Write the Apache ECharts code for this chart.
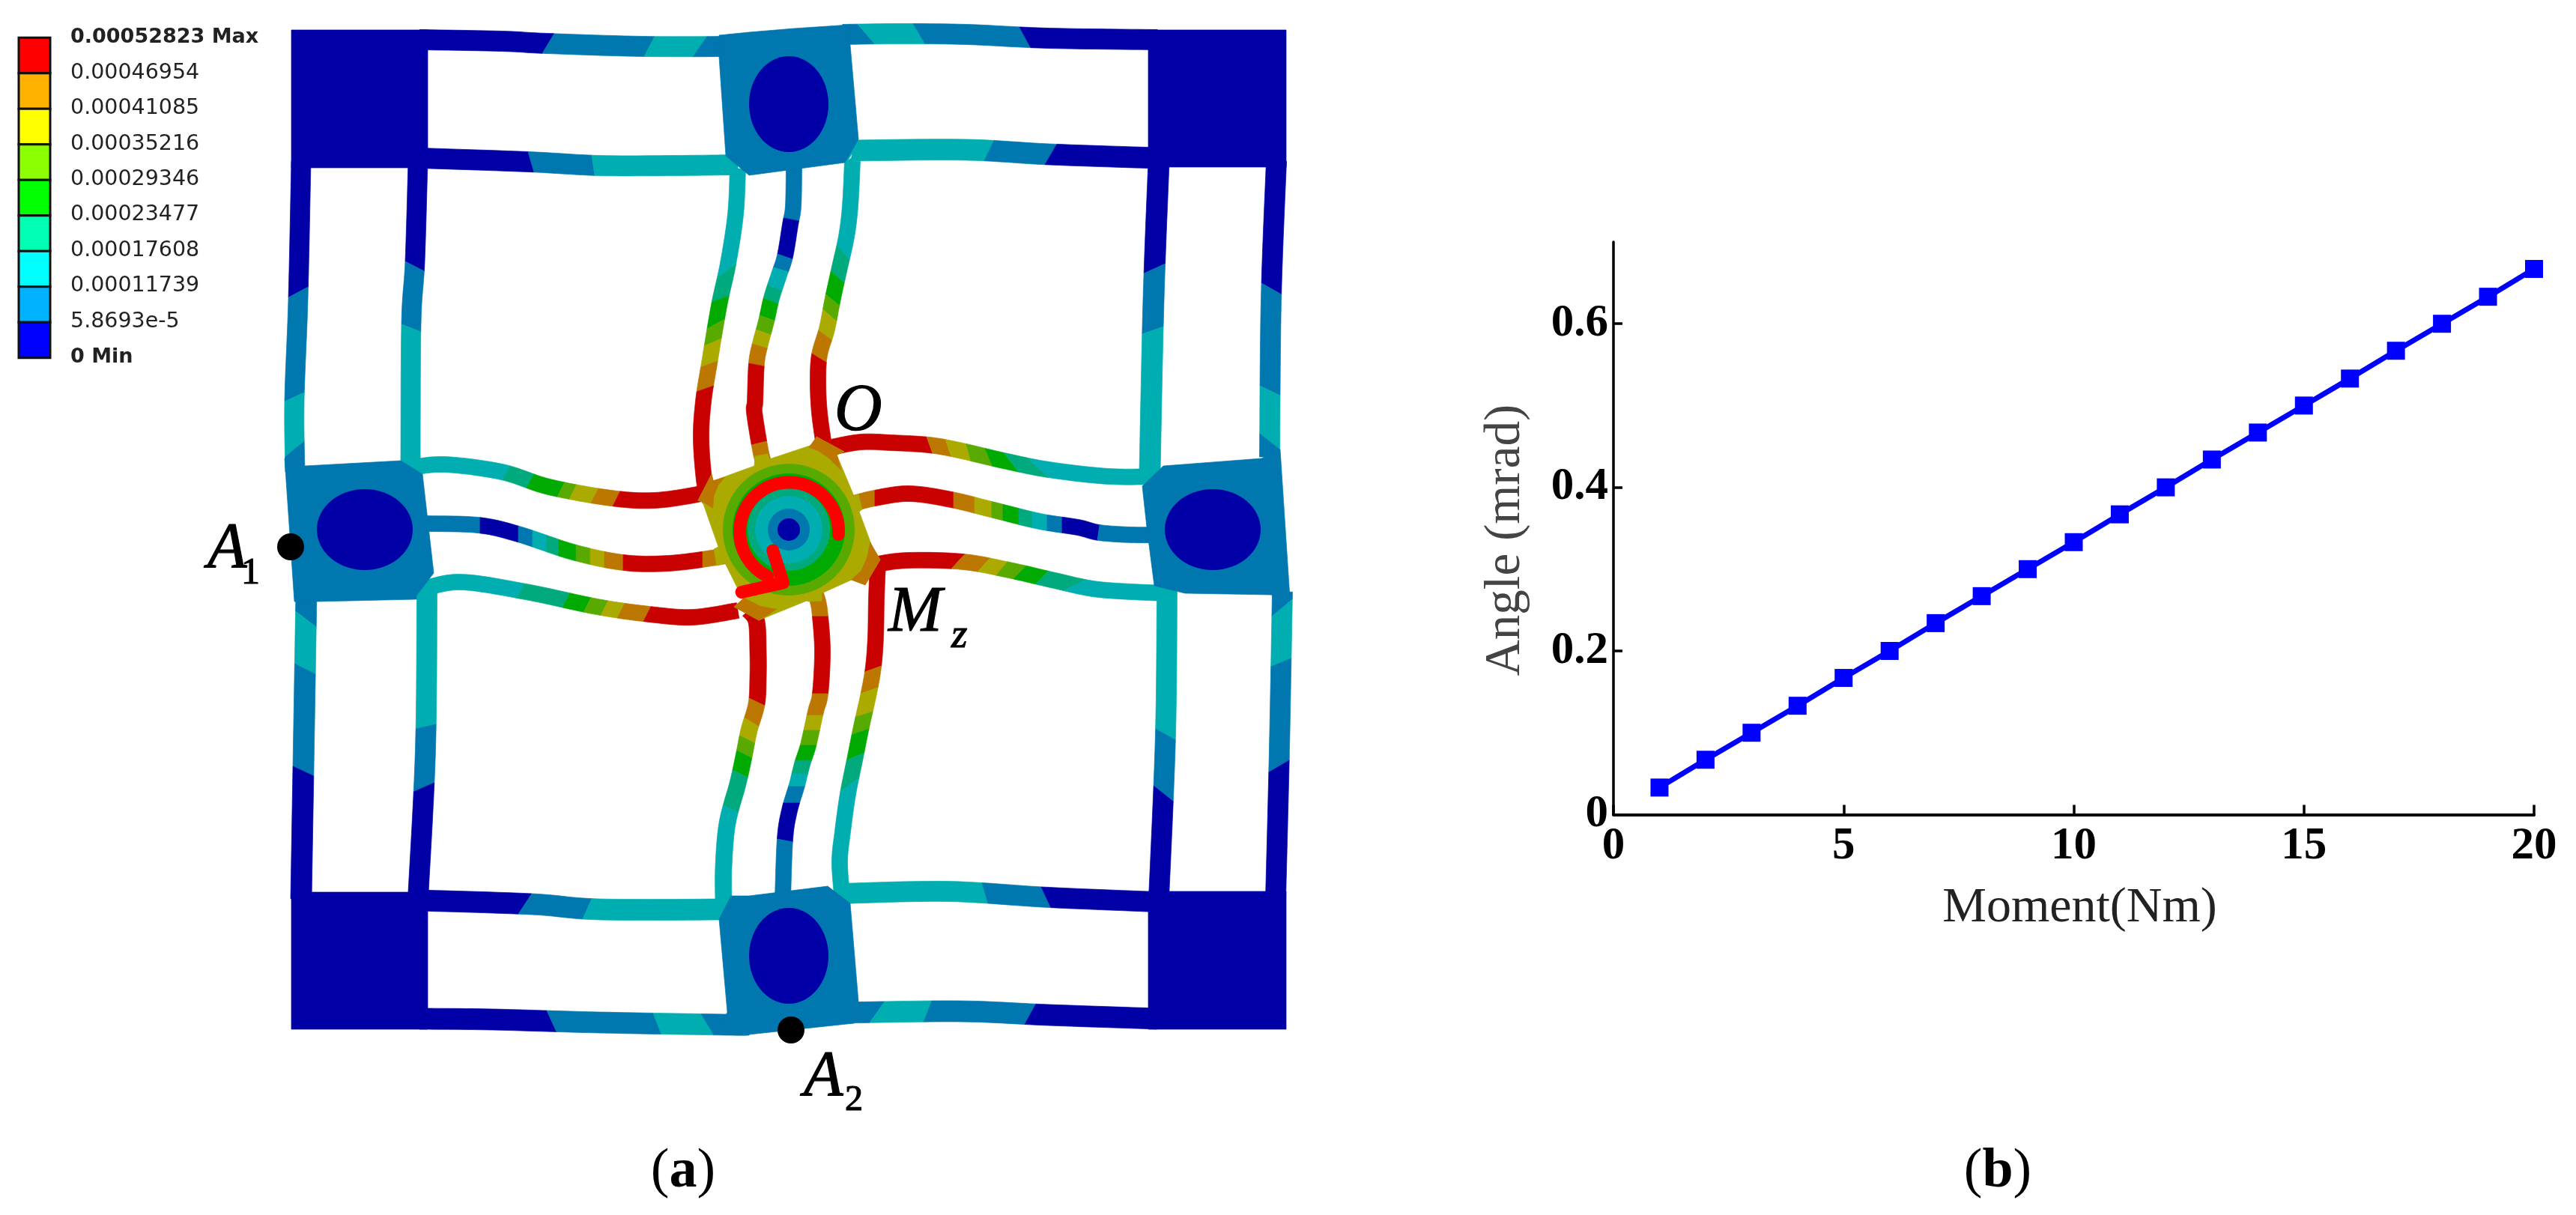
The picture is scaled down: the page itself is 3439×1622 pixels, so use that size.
<!DOCTYPE html>
<html><head><meta charset="utf-8">
<style>html,body{margin:0;padding:0;background:#fff;overflow:hidden}#c{width:3439px;height:1622px}</style>
<script src="https://cdn.jsdelivr.net/npm/echarts@6/dist/echarts.min.js"></script>
</head><body><div id="c"></div>
<script>
// ---- panel (b) data
const moment = [1,2,3,4,5,6,7,8,9,10,11,12,13,14,15,16,17,18,19,20];
const angle = [0.033,0.067,0.1,0.133,0.167,0.2,0.234,0.267,0.3,0.333,0.367,0.4,0.434,0.467,0.5,0.533,0.567,0.6,0.633,0.667];
const angleTicks = [0,0.2,0.4,0.6];
// ---- panel (a) legend
const legendLabels = ['0.00052823 Max','0.00046954','0.00041085','0.00035216','0.00029346','0.00023477','0.00017608','0.00011739','5.8693e-5','0 Min'];
const legendColors = ['#ff0000','#ffb200','#ffff00','#8cff00','#00ff00','#00ffb2','#00ffff','#00b2ff','#0000ff'];
// ---- panel (a) contour colours
const shade = {N:'#0000a6',B:'#0077ae',T:'#00adb0',S:'#00aa7c',g:'#00aa00',L:'#58aa00',O:'#aaaa00',Y:'#bb7700',R:'#c80000'};
// ---- panel (a) mesh, in image-plane coordinates
const solidBlocks = [
 ['N',[[389,40],[571,40],[571,224],[389,224]]],
 ['N',[[1533,40],[1717,40],[1717,223],[1533,223]]],
 ['N',[[389,1191],[571,1191],[571,1374],[389,1374]]],
 ['N',[[1533,1190],[1717,1190],[1717,1374],[1533,1374]]],
 ['B',[[960,47],[1000,43],[1060,38],[1135,33],[1135,60],[1146,186],[1128,217],[1000,234],[969,208],[960,76]]],
 ['B',[[976,1196],[1000,1196],[1105,1183],[1135,1206],[1146,1337],[1140,1366],[1000,1381],[960,1378],[971,1351],[960,1227]]],
 ['B',[[380,612],[407,622],[535,615],[564,633],[579,765],[556,795],[556,800],[424,803],[393,803]]],
 ['B',[[1525,649],[1553,622],[1684,612],[1709,600],[1722,798],[1696,794],[1582,792],[1541,782],[1531,704]]]
];
const holes = [[487,707,64,54],[1619,707,64,54],[1053,139,53,64],[1053,1276,53,64]];
const beams = [
 {axis:'x',w:27,path:[[560,53],[670,55],[730,58],[860,62],[975,62]],cuts:[['N',740,724],['B',874,860],['T',944,925],['B']]},
 {axis:'x',w:27,path:[[1125,46],[1200,45],[1290,46],[1400,51],[1545,53]],cuts:[['B',1145,1168],['T',1219,1235],['B',1361,1376],['N']]},
 {axis:'x',w:27,path:[[560,211],[705,216],[800,221],[900,221],[985,220]],cuts:[['N',705,713],['B',790,794],['T']]},
 {axis:'x',w:28,path:[[1125,203],[1145,201],[1290,200],[1400,206],[1545,211]],cuts:[['T',1327,1314],['B',1411,1395],['N']]},
 {axis:'x',w:28,path:[[560,1202],[710,1207],[800,1214],[960,1214],[985,1212]],cuts:[['N',710,692],['B',790,778],['T']]},
 {axis:'x',w:27,path:[[1120,1193],[1265,1190],[1400,1198],[1545,1204]],cuts:[['T',1311,1319],['B',1390,1403],['N']]},
 {axis:'x',w:28,path:[[560,1360],[657,1361],[800,1365],[969,1368],[1000,1368]],cuts:[['N',730,743],['B',872,883],['T',936,953],['B']]},
 {axis:'x',w:28,path:[[1125,1352],[1280,1350],[1400,1355],[1545,1360]],cuts:[['B',1181,1161],['T',1244,1233],['B',1383,1368],['N']]},
 {axis:'y',w:26,path:[[402,215],[398,400],[393,536],[394,630]],cuts:[['N',397,383],['B',536,524],['T',610,589],['B']]},
 {axis:'y',w:26,path:[[558,215],[554,349],[549,433],[548,625]],cuts:[['N',349,362],['B',433,443],['T']]},
 {axis:'y',w:28,path:[[409,790],[405,1025],[402,1200]],cuts:[['B',816,837],['T',886,900],['B',1023,1036],['N']]},
 {axis:'y',w:27,path:[[570,790],[568,1000],[558,1200]],cuts:[['T',973,967],['B',1057,1045],['N']]},
 {axis:'y',w:28,path:[[1547,215],[1540,400],[1535,630]],cuts:[['N',365,352],['B',446,436],['T']]},
 {axis:'y',w:27,path:[[1704,215],[1697,400],[1695,610]],cuts:[['N',378,393],['B',515,528],['T',579,600],['B']]},
 {axis:'y',w:27,path:[[1558,780],[1556,980],[1547,1200]],cuts:[['T',973,988],['B',1049,1070],['N']]},
 {axis:'y',w:27,path:[[1712,790],[1708,1000],[1703,1200]],cuts:[['B',823,800],['T',890,879],['B',1031,1015],['N']]},
 {axis:'y',w:21,path:[[985,225],[982,286],[972,352],[960,408],[947,485],[939,536],[936,587],[941,648],[948,668]],cuts:[['T',372,352],['S',403,395],['g',439,426],['L',462,452],['O',490,482],['Y',523,515],['R']]},
 {axis:'y',w:21,path:[[1060,224],[1059,275],[1055,300],[1048,342],[1040,367],[1030,398],[1023,429],[1015,459],[1010,485],[1008,536],[1007,550],[1015,600],[1020,620]],cuts:[['B',291,295],['N',339,346],['B',357,363],['T',380,388],['S',398,406],['g',421,428],['L',440,447],['O',459,465],['Y',485,489],['R',594,589],['Y']]},
 {axis:'y',w:21,path:[[1138,215],[1135,275],[1130,316],[1121,357],[1112,398],[1104,439],[1094,474],[1092,510],[1094,551],[1100,595]],cuts:[['T',327,347],['S',362,378],['g',393,408],['L',413,429],['O',441,454],['Y',472,484],['R']]},
 {axis:'x',w:21,path:[[1100,600],[1110,597],[1150,590],[1189,591],[1240,594],[1280,601],[1340,615],[1400,627],[1480,636],[1545,636]],cuts:[['R',1237,1245],['Y',1262,1270],['O',1290,1296],['L',1315,1325],['g',1340,1360],['S',1372,1400],['T']]},
 {axis:'x',w:21,path:[[1140,672],[1168,665],[1214,659],[1270,667],[1327,681],[1388,696],[1439,704],[1467,711],[1510,714],[1545,714]],cuts:[['Y',1168],['R',1273],['Y',1301],['O',1324],['L',1339],['g',1360],['S',1378],['T',1398],['B',1418],['N',1468,1465],['B']]},
 {axis:'x',w:21,path:[[1160,760],[1173,753],[1214,748],[1286,750],[1347,761],[1408,775],[1459,786],[1510,790],[1560,792]],cuts:[['R',1288,1270],['Y',1322,1305],['O',1345,1330],['L',1370,1353],['g',1400,1382],['S',1450,1420],['T']]},
 {axis:'x',w:21,path:[[545,625],[593,620],[670,630],[733,650],[816,665],[874,668],[931,660],[945,655]],cuts:[['T',681,671],['S',713,703],['g',754,744],['L',770,760],['O',799,789],['Y',828,818],['R']]},
 {axis:'x',w:21,path:[[560,699],[638,701],[692,713],[765,737],[832,751],[893,752],[957,744],[975,740]],cuts:[['B',641],['N',692],['B',711],['T',730],['S',746],['g',769],['L',788],['O',807],['Y',832],['R',938],['Y']]},
 {axis:'x',w:21,path:[[555,790],[612,777],[702,790],[797,810],[867,820],[925,824],[985,815]],cuts:[['T',700,690],['S',761,751],['g',789,779],['L',812,802],['O',834,824],['Y',869,859],['R']]},
 {axis:'y',w:22,path:[[1000,815],[1010,830],[1012,870],[1012,905],[1010,940],[1000,975],[993,1010],[985,1046],[971,1099],[966,1157],[966,1205]],cuts:[['R',932,942],['Y',958,970],['O',982,992],['L',1002,1012],['g',1028,1038],['S',1075,1085],['T']]},
 {axis:'y',w:21,path:[[1086,785],[1092,803],[1095,823],[1098,870],[1095,926],[1089,950],[1079,995],[1071,1020],[1064,1048],[1054,1082],[1048,1120],[1045,1200]],cuts:[['Y',823],['R',926],['Y',955],['O',975],['L',995],['g',1015],['S',1033],['T',1050],['B',1072],['N',1120,1124],['B']]},
 {axis:'y',w:21,path:[[1172,750],[1170,800],[1169,850],[1166,890],[1160,925],[1150,970],[1142,1010],[1132,1060],[1125,1110],[1121,1150],[1124,1195]],cuts:[['R',897,889],['Y',926,918],['O',957,950],['L',981,973],['g',1015,1005],['S',1057,1039],['T']]}
];
const hubOutline = [[932,668],[950,633],[952,642],[1007,622],[1008,609],[1025,606],[1027,613],[1087,593],[1090,583],[1127,603],[1117,607],[1140,662],[1146,660],[1151,680],[1147,683],[1167,737],[1175,747],[1155,781],[1137,774],[1097,792],[1097,802],[1079,803],[1077,802],[1013,828],[980,810],[992,800],[968,752],[957,755],[953,733],[959,730],[938,670]];
const hubCorners = [
 [[931.7,668.3],[950,633.3],[952.3,641.7],[967.3,637.3],[958.3,648.3],[952.7,663.3],[951.7,678.3],[938.3,670]],
 [[1080,597.3],[1090,583.3],[1126.7,603.3],[1117.3,607.3],[1122.7,627.3],[1106.7,611.7],[1093.3,602.3]],
 [[1161.7,724],[1175,746.7],[1155,780.7],[1136.7,774],[1150,761.7],[1158,743]],
 [[980,810],[1013.3,828.3],[1036.7,813.3],[1015,809.3],[993.3,798.3]]
];
const hubRings = [['L',88],['g',75],['S',55],['T',45],['B',28],['N',15]];
const hubCentre = [1053,707];
const arrowStrokes = [[[1031.7,735],[1045.5,778],[990,790.5]]];
const arrowArc = {c:[1053.5,710],r:66,from:3,to:116};
const probeDots = [[388,730],[1056,1375]];
const annotations = [
 {t:'A',x:277,b:760,s:86,f:'italic'},
 {t:'1',x:322,b:781,s:50,f:''},
 {t:'A',x:1073,b:1465,s:86,f:'italic'},
 {t:'2',x:1128,b:1484,s:48,f:''},
 {t:'O',x:1114,b:576,s:88,f:'italic'},
 {t:'M',x:1186,b:845,s:86,f:'italic'},
 {t:'z',x:1270,b:866,s:55,f:'italic'}
];

// ---- geometry helpers
function dense(path){
  const out=[];
  for(let i=0;i<path.length-1;i++){
    const p0=path[Math.max(i-1,0)],p1=path[i],p2=path[i+1],p3=path[Math.min(i+2,path.length-1)];
    for(let s=0;s<10;s++){
      const t=s/10,t2=t*t,t3=t2*t;
      out.push([0,1].map(k=>0.5*(2*p1[k]+(p2[k]-p0[k])*t+(2*p0[k]-5*p1[k]+4*p2[k]-p3[k])*t2+(3*p1[k]-p0[k]-3*p2[k]+p3[k])*t3)));
    }
  }
  out.push(path[path.length-1]);
  return out;
}
function edges(b){
  const d=dense(b.path),A=[],B=[],sign=b.axis==='x'?1:-1;
  d.forEach((p,i)=>{
    const a=d[Math.max(i-1,0)],c=d[Math.min(i+1,d.length-1)];
    let dx=c[0]-a[0],dy=c[1]-a[1];const l=Math.hypot(dx,dy)||1;dx/=l;dy/=l;
    const nx=dy*sign*b.w/2,ny=-dx*sign*b.w/2;
    A.push([p[0]+nx,p[1]+ny]);B.push([p[0]-nx,p[1]-ny]);
  });
  return [A,B];
}
function clip(e,k,lo,hi){
  const out=[];
  const lerp=(p,q,v)=>{const t=(v-p[k])/(q[k]-p[k]);return [p[0]+(q[0]-p[0])*t,p[1]+(q[1]-p[1])*t];};
  for(let i=0;i<e.length;i++){
    const p=e[i],q=e[i+1],o=e[i-1];
    if(o&&o[k]<lo&&p[k]>=lo)out.push(lerp(o,p,lo));
    if(p[k]>=lo&&p[k]<=hi)out.push(p);
    if(q&&p[k]<=hi&&q[k]>hi)out.push(lerp(p,q,hi));
  }
  return out;
}
const shapes=[];
beams.forEach(b=>{
  const [A,B]=edges(b),k=b.axis==='x'?0:1;
  let a0=-Infinity,b0=-Infinity;
  b.cuts.forEach(c=>{
    const a1=c.length>1?c[1]:Infinity,b1=c.length>2?c[2]:a1;
    shapes.push({color:shade[c[0]],pts:clip(A,k,a0,a1).concat(clip(B,k,b0,b1).reverse())});
    a0=a1;b0=b1;
  });
});
solidBlocks.forEach(s=>shapes.push({color:shade[s[0]],pts:s[1]}));
shapes.push({color:shade.O,pts:hubOutline});
hubCorners.forEach(p=>shapes.push({color:shade.Y,pts:p}));

const chart=echarts.init(document.getElementById('c'),null,{renderer:'canvas',width:3439,height:1622});
const serif='"Liberation Serif"';
const none={show:false};
chart.setOption({
 animation:false,backgroundColor:'#fff',
 grid:[{left:2154,width:1229,top:323,height:764.4},{left:0,top:0,width:3439,height:1622}],
 xAxis:[
  {type:'value',gridIndex:0,min:0,max:20,interval:5,name:'Moment(Nm)',nameLocation:'middle',nameGap:92,
   nameTextStyle:{fontFamily:serif,fontSize:66,color:'#222',padding:[0,0,0,16]},
   axisLine:{show:true,onZero:false,lineStyle:{color:'#000',width:4}},
   axisTick:{show:true,inside:true,length:13,lineStyle:{color:'#000',width:3.5}},
   axisLabel:{fontFamily:serif,fontSize:61,fontWeight:'bold',color:'#000',margin:12},splitLine:none},
  {type:'value',gridIndex:1,min:0,max:3439,show:false,splitLine:none}],
 yAxis:[
  {type:'value',gridIndex:0,min:0,max:0.7,interval:0.2,name:'Angle (mrad)',nameLocation:'middle',nameGap:110,nameRotate:90,
   nameTextStyle:{fontFamily:serif,fontSize:67,color:'#444',padding:[0,32,0,0]},
   axisLine:{show:true,onZero:false,lineStyle:{color:'#000',width:3.5}},
   axisTick:{show:true,inside:true,length:12,customValues:angleTicks,lineStyle:{color:'#000',width:3.5}},
   axisLabel:{fontFamily:serif,fontSize:61,fontWeight:'bold',color:'#000',margin:7,customValues:angleTicks,
     formatter:v=>v===0?'0':v.toFixed(1)},splitLine:none},
  {type:'value',gridIndex:1,min:0,max:1622,inverse:true,show:false,splitLine:none}],
 series:[
  {type:'line',name:'Angle',xAxisIndex:0,yAxisIndex:0,data:moment.map((m,i)=>[m,angle[i]]),
   symbol:'rect',symbolSize:24,lineStyle:{color:'#0000ff',width:7},itemStyle:{color:'#0000ff'},z:5,silent:true},
  {type:'custom',name:'mesh',xAxisIndex:1,yAxisIndex:1,coordinateSystem:'cartesian2d',clip:false,silent:true,z:2,
   data:shapes.map((_,i)=>[i,0]),encode:{x:0,y:1},
   renderItem:(p,api)=>{const s=shapes[p.dataIndex];
     return {type:'polygon',shape:{points:s.pts.map(q=>api.coord(q))},style:{fill:s.color,stroke:s.color,lineWidth:0.7}};}},
  {type:'custom',name:'holes',xAxisIndex:1,yAxisIndex:1,clip:false,silent:true,z:3,
   data:holes,encode:{x:0,y:1},
   renderItem:(p,api)=>{const c=api.coord([api.value(0),api.value(1)]);
     return {type:'ellipse',shape:{cx:c[0],cy:c[1],rx:api.value(2),ry:api.value(3)},style:{fill:shade.N}};}},
  {type:'custom',name:'rings',xAxisIndex:1,yAxisIndex:1,clip:false,silent:true,z:3,
   data:hubRings.map(r=>[hubCentre[0],hubCentre[1],r[1]]),encode:{x:0,y:1},
   renderItem:(p,api)=>{const c=api.coord([api.value(0),api.value(1)]);
     return {type:'circle',shape:{cx:c[0],cy:c[1],r:api.value(2)},style:{fill:shade[hubRings[p.dataIndex][0]]}};}},
  {type:'custom',name:'arrow',xAxisIndex:1,yAxisIndex:1,clip:false,silent:true,z:4,
   data:[arrowArc.c],encode:{x:0,y:1},
   renderItem:(p,api)=>{const c=api.coord(arrowArc.c),st={fill:null,stroke:'#ff0000',lineWidth:17,lineCap:'round',lineJoin:'round'};
     return {type:'group',children:[
       {type:'arc',shape:{cx:c[0],cy:c[1],r:arrowArc.r,startAngle:arrowArc.from*Math.PI/180,endAngle:arrowArc.to*Math.PI/180,clockwise:false},style:st},
       ...arrowStrokes.map(s=>({type:'polyline',shape:{points:s.map(q=>api.coord(q))},style:st}))]};}},
  {type:'scatter',name:'probes',xAxisIndex:1,yAxisIndex:1,data:probeDots,symbol:'circle',symbolSize:36,itemStyle:{color:'#000',opacity:1},z:6,silent:true},
  {type:'custom',name:'notes',xAxisIndex:1,yAxisIndex:1,clip:false,silent:true,z:7,
   data:annotations.map(a=>[a.x,a.b]),encode:{x:0,y:1},
   renderItem:(p,api)=>{const a=annotations[p.dataIndex],c=api.coord([a.x,a.b]);
     return {type:'text',x:c[0],y:c[1]+a.s*0.2,style:{text:a.t,font:a.f+' '+a.s+'px "Liberation Serif"',fill:'#000',stroke:'#000',lineWidth:1.2,align:'left',verticalAlign:'bottom'}};}},
  {type:'custom',name:'colourbar',xAxisIndex:1,yAxisIndex:1,clip:false,silent:true,z:7,
   data:legendColors.map((c,i)=>[46,74+i*47.5]),encode:{x:0,y:1},
   renderItem:(p,api)=>{const c=api.coord([api.value(0),api.value(1)]);
     return {type:'rect',shape:{x:c[0]-21,y:c[1]-23.75,width:42,height:47.5},style:{fill:legendColors[p.dataIndex],stroke:'#111',lineWidth:3}};}},
  {type:'custom',name:'colourbarLabels',xAxisIndex:1,yAxisIndex:1,clip:false,silent:true,z:7,
   data:legendLabels.map((c,i)=>[94,50+i*47.4]),encode:{x:0,y:1},
   renderItem:(p,api)=>{const c=api.coord([api.value(0),api.value(1)]),i=p.dataIndex,bold=i===0||i===9;
     return {type:'text',x:c[0],y:c[1],style:{text:legendLabels[i],font:(bold?'bold 27px':'28.5px')+' "DejaVu Sans"',fill:'#222',align:'left',verticalAlign:'middle'}};}},
  {type:'custom',name:'panelTags',xAxisIndex:1,yAxisIndex:1,clip:false,silent:true,z:7,
   data:[[912,1565,'a'],[2667,1565,'b']],encode:{x:0,y:1},
   renderItem:(p,api)=>{const c=api.coord([api.value(0),api.value(1)]);
     return {type:'text',x:c[0],y:c[1],style:{text:'{n|(}{b|'+['a','b'][p.dataIndex]+'}{n|)}',align:'center',verticalAlign:'middle',
       rich:{n:{font:'74px "Liberation Serif"',fill:'#000'},b:{font:'bold 74px "Liberation Serif"',fill:'#000'}}}};}}
 ]
});
</script></body></html>
